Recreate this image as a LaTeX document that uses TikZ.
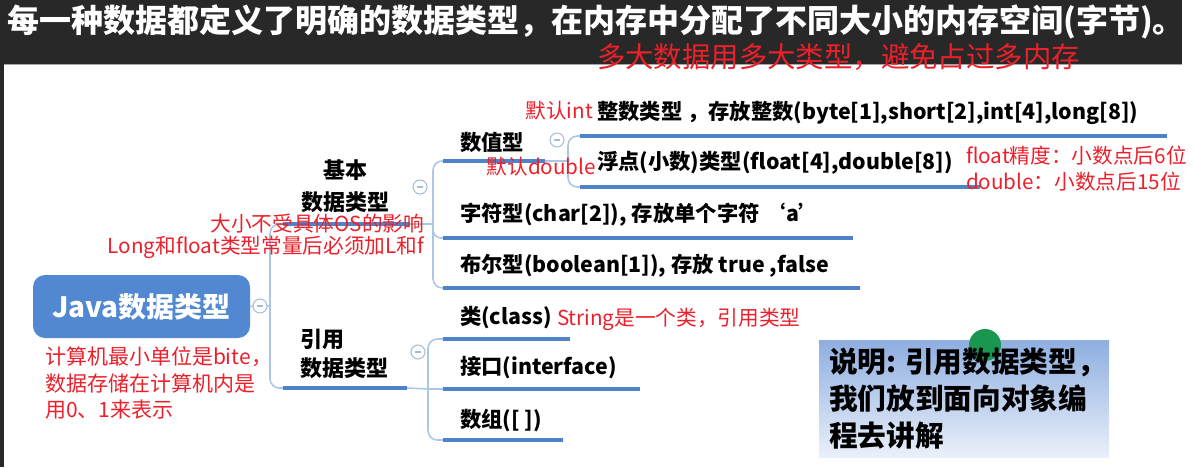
\documentclass[tikz,border=0pt]{standalone}
\usepackage{fontspec}
\setmainfont{Noto Sans CJK SC}
\definecolor{bandgray}{RGB}{40,40,40}
\definecolor{notered}{RGB}{236,32,42}
\definecolor{rootblue}{RGB}{82,136,210}
\definecolor{linkblue}{RGB}{172,198,230}
\definecolor{ulblue}{RGB}{79,131,201}
\definecolor{foldgray}{RGB}{165,188,216}
\definecolor{boxtop}{RGB}{142,174,224}
\definecolor{boxbottom}{RGB}{234,240,250}
\definecolor{dotgreen}{RGB}{26,150,80}
\begin{document}
\begin{tikzpicture}[x=0.75pt, y=-0.75pt,
    every node/.style={inner sep=0pt, outer sep=0pt},
    leaf/.style={anchor=west, font=\fontsize{16}{19}\selectfont\bfseries},
    note/.style={text=notered, font=\fontsize{15.5}{19}\selectfont},
    link/.style={draw=linkblue, line width=1.2pt},
    uline/.style={draw=ulblue, line width=2.6pt},
    fold/.style={circle, draw=foldgray, line width=0.8pt, fill=white, minimum size=10.5pt,
        path picture={\draw[foldgray, line width=0.8pt]
            ([xshift=-2.5pt]path picture bounding box.center) -- ([xshift=2.5pt]path picture bounding box.center);}}]
    \useasboundingbox (0,0) rectangle (1194,467);
    % dark header band
    \fill[bandgray] (4,0) rectangle (1182,65);
    \fill[bandgray] (0,0) rectangle (4,467);
    \draw[gray!70, line width=0.8pt] (4,64.5) -- (1182,64.5);
    \node[text=white, font=\fontsize{24}{28}\selectfont\bfseries] (title) at (596,22) {每一种数据都定义了明确的数据类型，在内存中分配了不同大小的内存空间(字节)。};
    \node[anchor=west, text=notered, font=\fontsize{21.3}{24}\selectfont] (tip) at (597,57) {多大数据用多大类型，避免占过多内存};

    % root and first level
    \node[fill=rootblue, rounded corners=9pt, minimum width=162.75pt, minimum height=47.25pt, text=white, font=\fontsize{21}{24}\selectfont\bfseries] (java) at (141.5,306.5) {Java数据类型};
    \node[fold] (f0) at (260,306) {};
    \node[align=center, font=\fontsize{16.5}{24}\selectfont\bfseries] (basic) at (345,186) {基本\\数据类型};
    \node[align=left, anchor=west, font=\fontsize{16.5}{22}\selectfont\bfseries] (ref) at (300,354) {引用\\数据类型};
    \node[fold] (f1) at (420,187) {};
    \node[fold] (f3) at (418,352) {};

    % leaves
    \node[leaf] (num) at (460,142) {数值型};
    \node[fold] (f2) at (557,140) {};
    \node[leaf] (int) at (597,113) {整数类型 ，存放整数(byte[1],short[2],int[4],long[8])};
    \node[leaf] (flt) at (597,163) {浮点(小数)类型(float[4],double[8])};
    \node[leaf] (chr) at (460,215) {字符型(char[2]), 存放单个字符 ‘a’};
    \node[leaf] (bool) at (460,266) {布尔型(boolean[1]), 存放 true ,false};
    \node[leaf] (cls) at (460,318) {类(class)};
    \node[leaf] (ifc) at (460,368) {接口(interface)};
    \node[leaf] (arr) at (460,420) {数组([ ])};

    % connector points
    \coordinate (trunk) at (270,306);
    \coordinate (bu0) at (283,224);
    \coordinate (bu1) at (410,224);
    \coordinate (bj) at (433,224);
    \coordinate (ru0) at (283,388);
    \coordinate (ru1) at (407,388);
    \coordinate (rj) at (428,389);
    \coordinate (nu0) at (443,161);
    \coordinate (nu1) at (545,161);
    \coordinate (nj) at (568,161);
    \coordinate (iu0) at (580,136);
    \coordinate (iu1) at (1167,136);
    \coordinate (fu0) at (580,187);
    \coordinate (fu1) at (980,187);
    \coordinate (cu0) at (443,238);
    \coordinate (cu1) at (853,238);
    \coordinate (lu0) at (443,288);
    \coordinate (lu1) at (860,288);
    \coordinate (ku0) at (443,339);
    \coordinate (ku1) at (570,339);
    \coordinate (ju0) at (443,389);
    \coordinate (ju1) at (640,389);
    \coordinate (au0) at (443,440);
    \coordinate (au1) at (563,440);

    % connectors
    \draw[link] (java.east) -- (f0.west);
    \draw[link] (f0.east) -- (trunk);
    \draw[link, rounded corners=7pt] (bu0) -| (trunk) |- (ru0);
    \draw[link] (bu1) -- (bj);
    \draw[link, rounded corners=7pt] (nu0) -| (bj) |- (lu0);
    \draw[link, rounded corners=6pt] (bj) |- (cu0);
    \draw[link] (nu1) -- (nj);
    \draw[link, rounded corners=7pt] (iu0) -| (nj) |- (fu0);
    \draw[link] (ru1) -- (rj);
    \draw[link, rounded corners=7pt] (ku0) -| (rj) |- (au0);
    \draw[link] (rj) -- (ju0);
    % underlines
    \draw[uline] (bu0) -- (bu1);
    \draw[uline] (ru0) -- (ru1);
    \draw[uline] (nu0) -- (nu1);
    \draw[uline] (iu0) -- (iu1);
    \draw[uline] (fu0) -- (fu1);
    \draw[uline] (cu0) -- (cu1);
    \draw[uline] (lu0) -- (lu1);
    \draw[uline] (ku0) -- (ku1);
    \draw[uline] (ju0) -- (ju1);
    \draw[uline] (au0) -- (au1);

    % red notes
    \node[note, anchor=east] (nint) at (593,111) {默认int};
    \node[note, anchor=east] (ndbl) at (596,167) {默认double};
    \node[note, anchor=west, align=left, font=\fontsize{15.5}{20}\selectfont] (nprec) at (966,168.5) {float精度：小数点后6位\\double：小数点后15位};
    \node[note, anchor=east, align=right, font=\fontsize{15.5}{16}\selectfont] (nos) at (424,236.5) {大小不受具体OS的影响\\Long和float类型常量后必须加L和f};
    \node[note, anchor=west] (nstr) at (557,319) {String是一个类，引用类型};
    \node[note, anchor=west, align=left, font=\fontsize{15.75}{20}\selectfont] (nbit) at (45,383) {计算机最小单位是bite，\\数据存储在计算机内是\\用0、1来表示};

    % remark box
    \node[top color=boxtop, bottom color=boxbottom, minimum width=217.5pt, minimum height=87.75pt] (box) at (964,398.5) {};
    \node[circle, fill=dotgreen, minimum size=24pt] (dot) at (985,345) {};
    \node[anchor=west, align=left, font=\fontsize{21.5}{27.5}\selectfont\bfseries] (boxtext) at (829,398.5) {说明: 引用数据类型，\\我们放到面向对象编\\程去讲解};
\end{tikzpicture}
\end{document}
